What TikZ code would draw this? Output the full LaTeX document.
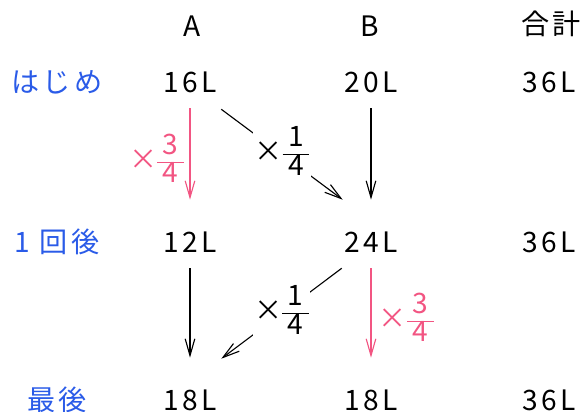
\documentclass[tikz,border=0pt]{standalone}
\usepackage{fontspec}
\setmainfont{Noto Sans CJK JP}[LetterSpace=12]
\usetikzlibrary{arrows.meta}
\definecolor{rowblue}{HTML}{2A5BE8}
\definecolor{ratepink}{HTML}{F25582}
\setlength{\arrayrulewidth}{0.7pt}
\newcommand{\bairitsu}[2]{\fontsize{20}{17.5}\selectfont ×%
  \begin{tabular}{@{\hspace{4pt}}c@{\hspace{4pt}}}#1\\\hline #2\end{tabular}}

\begin{document}
\begin{tikzpicture}[x=0.025cm, y=-0.025cm,
    amount/.style={font=\fontsize{20}{24}\selectfont, minimum width=1.5cm,
      minimum height=0.6cm, inner sep=0pt},
    rowlabel/.style={amount, text=rowblue},
    rate/.style={inner sep=1pt},
    flowline/.style={-{Straight Barb[length=0.42cm,width=0.24cm]}, line width=0.8pt},
    vflow/.style={flowline, shorten <=0.35cm, shorten >=0.75cm}]
  \useasboundingbox (0,0) rectangle (588,412);

  % column heads
  \node[amount] (hA) at (192,26) {A};
  \node[amount] (hB) at (370,26) {B};
  \node[amount] (hS) at (551,24) {合計};

  % row heads
  \node[rowlabel] (r0) at (57,82) {はじめ};
  \node[rowlabel] (r1) at (57,242) {1 回後};
  \node[rowlabel] (r2) at (57,400) {最後};

  % amounts
  \node[amount] (a0) at (190,82) {16L};
  \node[amount] (b0) at (371,82) {20L};
  \node[amount] (s0) at (549,82) {36L};
  \node[amount] (a1) at (190,242) {12L};
  \node[amount] (b1) at (371,242) {24L};
  \node[amount] (s1) at (549,242) {36L};
  \node[amount] (a2) at (190,400) {18L};
  \node[amount] (b2) at (371,400) {18L};
  \node[amount] (s2) at (549,400) {36L};

  % first pouring
  \draw[vflow, ratepink] (a0.south) -- (a1.north)
    node[midway, left=0.1cm, rate, text=ratepink] {\bairitsu{3}{4}};
  \draw[vflow] (b0.south) -- (b1.north);
  \draw[flowline] ([shift={(1,15)}]a0.south east) -- ([shift={(2,-30)}]b1.north west)
    node[midway, rate, fill=white] {\bairitsu{1}{4}};

  % second pouring
  \draw[vflow] (a1.south) -- (a2.north);
  \draw[vflow, ratepink] (b1.south) -- (b2.north)
    node[midway, right=0.15cm, rate, text=ratepink] {\bairitsu{3}{4}};
  \draw[flowline] ([shift={(1,14)}]b1.south west) -- ([shift={(1,-29)}]a2.north east)
    node[midway, rate, fill=white] {\bairitsu{1}{4}};
\end{tikzpicture}
\end{document}
